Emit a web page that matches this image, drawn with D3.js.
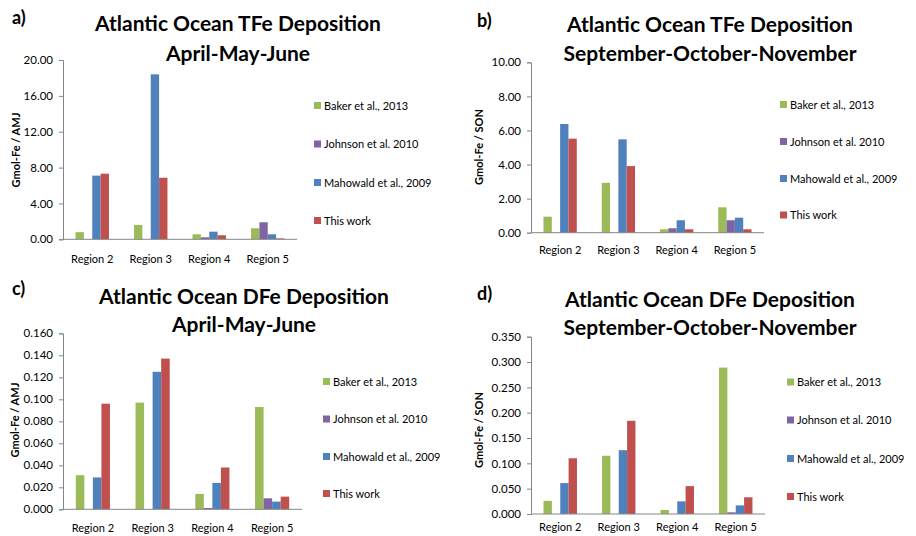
<!DOCTYPE html>
<html>
<head>
<meta charset="utf-8">
<script src="https://cdn.jsdelivr.net/npm/d3@7"></script>
<style>
  body { margin: 0; background: #fff; }
  svg { display: block; font-family: Lato, "Open Sans", sans-serif; }
</style>
</head>
<body>
<div id="content"></div>
<script>
// categories and series
const regions = ["Region 2", "Region 3", "Region 4", "Region 5"];
const seriesNames = ["Baker et al., 2013", "Johnson et al. 2010", "Mahowald et al., 2009", "This work"];
const seriesColors = ["#9BBB59", "#8064A2", "#4F81BD", "#C0504D"];

// values per series (Baker, Johnson, Mahowald, This work), one entry per region
const tfeAMJ = [
  [0.80, 1.60, 0.56, 1.23],
  [null, null, 0.22, 1.90],
  [7.10, 18.40, 0.85, 0.56],
  [7.32, 6.87, 0.45, 0.10]
];
const tfeSON = [
  [0.94, 2.93, 0.20, 1.49],
  [null, null, 0.26, 0.73],
  [6.38, 5.48, 0.73, 0.88],
  [5.52, 3.91, 0.20, 0.20]
];
const dfeAMJ = [
  [0.031, 0.097, 0.014, 0.093],
  [null, null, 0.0012, 0.010],
  [0.029, 0.125, 0.024, 0.007],
  [0.096, 0.137, 0.038, 0.0115]
];
const dfeSON = [
  [0.026, 0.115, 0.008, 0.289],
  [null, null, null, 0.0033],
  [0.061, 0.126, 0.025, 0.017],
  [0.110, 0.184, 0.055, 0.033]
];

// y tick values
const ticksTfeAMJ = [0, 4, 8, 12, 16, 20];
const ticksTfeSON = [0, 2, 4, 6, 8, 10];
const ticksDfeAMJ = [0, 0.02, 0.04, 0.06, 0.08, 0.10, 0.12, 0.14, 0.16];
const ticksDfeSON = [0, 0.05, 0.10, 0.15, 0.20, 0.25, 0.30, 0.35];

const svg = d3.select("#content")
  .append("svg")
  .attr("width", 916)
  .attr("height", 536);

const panels = [
  { tag: "a)", tagX: 12, tagY: 24,
    title: ["Atlantic Ocean TFe Deposition", "April-May-June"], titleX: 238, titleY: [31, 61],
    ylabel: "Gmol-Fe / AMJ", ylabelX: 20, ylabelY: 150,
    data: tfeAMJ, ticks: ticksTfeAMJ, fmt: ".2f",
    left: 63, right: 297, top: 60, bottom: 239.3, catY: 263,
    legX: 314, legY: [105.5, 144, 182.5, 220.5] },
  { tag: "b)", tagX: 477, tagY: 27,
    title: ["Atlantic Ocean TFe Deposition", "September-October-November"], titleX: 710, titleY: [32, 61],
    ylabel: "Gmol-Fe / SON", ylabelX: 483, ylabelY: 147,
    data: tfeSON, ticks: ticksTfeSON, fmt: ".2f",
    left: 531, right: 764, top: 62.3, bottom: 232.7, catY: 254,
    legX: 780, legY: [104.5, 141.5, 178.5, 215] },
  { tag: "c)", tagX: 12, tagY: 295,
    title: ["Atlantic Ocean DFe Deposition", "April-May-June"], titleX: 244, titleY: [304, 332],
    ylabel: "Gmol-Fe / AMJ", ylabelX: 19, ylabelY: 420,
    data: dfeAMJ, ticks: ticksDfeAMJ, fmt: ".3f",
    left: 63, right: 302, top: 333.3, bottom: 509.3, catY: 532,
    legX: 323, legY: [381.5, 419, 456.5, 493.5] },
  { tag: "d)", tagX: 477, tagY: 300,
    title: ["Atlantic Ocean DFe Deposition", "September-October-November"], titleX: 710, titleY: [307, 335],
    ylabel: "Gmol-Fe / SON", ylabelX: 483, ylabelY: 430,
    data: dfeSON, ticks: ticksDfeSON, fmt: ".3f",
    left: 531, right: 765, top: 336.7, bottom: 514, catY: 531,
    legX: 787, legY: [382, 420, 458.5, 496.5] }
];

panels.forEach(p => {
  const g = svg.append("g");

  const x0 = d3.scaleBand().domain(regions).range([p.left, p.right]).padding(0);
  const x1 = d3.scaleBand().domain(d3.range(seriesNames.length))
    .range([0, x0.bandwidth()]).paddingInner(0).paddingOuter(1.5);
  const y = d3.scaleLinear()
    .domain([0, d3.max(p.ticks)])
    .range([p.bottom, p.top]);

  // bars
  p.data.forEach((vals, si) => {
    g.selectAll(null)
      .data(vals.map((v, ri) => ({ v, r: regions[ri] })).filter(d => d.v != null))
      .enter()
      .append("rect")
      .attr("x", d => x0(d.r) + x1(si))
      .attr("y", d => y(d.v))
      .attr("width", x1.bandwidth())
      .attr("height", d => y(0) - y(d.v))
      .attr("fill", seriesColors[si]);
  });

  // y axis
  const yAxis = g.append("g")
    .attr("transform", "translate(" + p.left + ",0)")
    .call(d3.axisLeft(y).tickValues(p.ticks).tickFormat(d3.format(p.fmt)).tickSize(4).tickPadding(6).tickSizeOuter(4));
  yAxis.selectAll("path, line").attr("stroke", "#868686");
  yAxis.selectAll("text").attr("font-size", 11.5).attr("fill", "#000").attr("font-family", "Lato");

  // x axis
  g.append("line")
    .attr("x1", p.left).attr("x2", p.right)
    .attr("y1", y(0)).attr("y2", y(0))
    .attr("stroke", "#868686");

  g.selectAll(null)
    .data(regions)
    .enter()
    .append("text")
    .attr("x", d => x0(d) + x0.bandwidth() / 2)
    .attr("y", p.catY)
    .attr("text-anchor", "middle")
    .attr("font-size", 11)
    .text(d => d);

  // y label
  g.append("text")
    .attr("transform", "translate(" + p.ylabelX + "," + p.ylabelY + ") rotate(-90)")
    .attr("text-anchor", "middle")
    .attr("font-size", 11)
    .attr("font-weight", "bold")
    .text(p.ylabel);

  // titles
  g.selectAll(null)
    .data(p.title)
    .enter()
    .append("text")
    .attr("x", p.titleX)
    .attr("y", (d, i) => p.titleY[i])
    .attr("text-anchor", "middle")
    .attr("font-size", 21)
    .attr("font-weight", "bold")
    .text(d => d);

  g.append("text")
    .attr("x", p.tagX)
    .attr("y", p.tagY)
    .attr("font-size", 18)
    .attr("font-weight", "bold")
    .text(p.tag);

  // legend
  const leg = g.selectAll(null)
    .data(seriesNames)
    .enter()
    .append("g")
    .attr("transform", (d, i) => "translate(" + p.legX + "," + p.legY[i] + ")");
  leg.append("rect")
    .attr("x", 0).attr("y", -3.5)
    .attr("width", 7).attr("height", 7)
    .attr("fill", (d, i) => seriesColors[i]);
  leg.append("text")
    .attr("x", 10)
    .attr("y", 4)
    .attr("font-size", 11)
    .text(d => d);
});
</script>
</body>
</html>
